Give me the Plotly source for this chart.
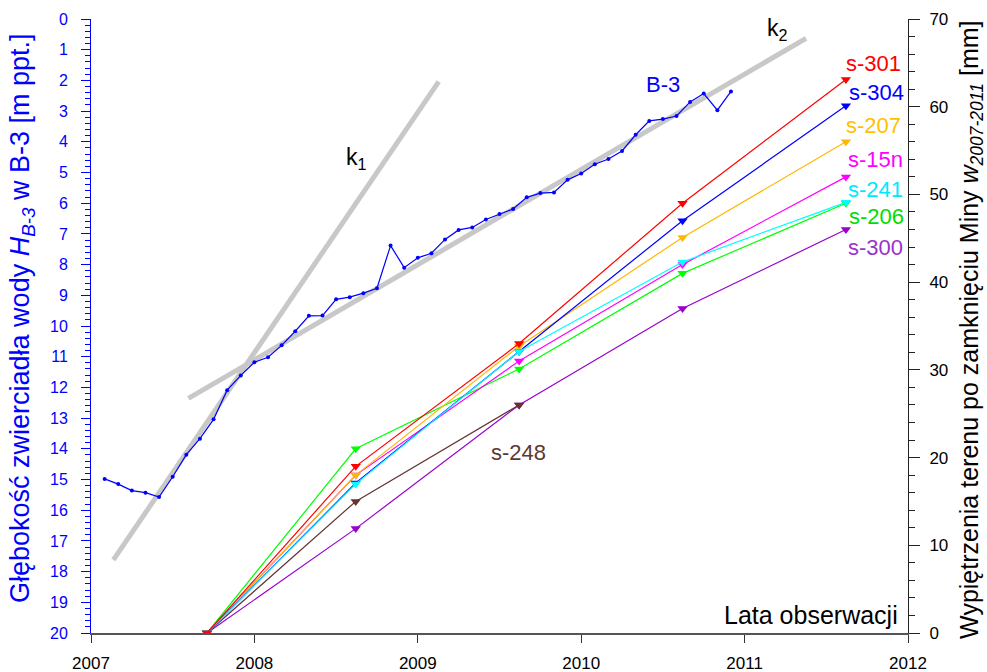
import plotly.graph_objects as go

# ---------------- data ----------------
b3_months = [
    "2007-02", "2007-03", "2007-04", "2007-05", "2007-06", "2007-07", "2007-08", "2007-09",
    "2007-10", "2007-11", "2007-12",
    "2008-01", "2008-02", "2008-03", "2008-04", "2008-05", "2008-06", "2008-07", "2008-08",
    "2008-09", "2008-10", "2008-11", "2008-12",
    "2009-01", "2009-02", "2009-03", "2009-04", "2009-05", "2009-06", "2009-07", "2009-08",
    "2009-09", "2009-10", "2009-11", "2009-12",
    "2010-01", "2010-02", "2010-03", "2010-04", "2010-05", "2010-06", "2010-07", "2010-08",
    "2010-09", "2010-10", "2010-11", "2010-12",
]
b3_depth = [
    14.98, 15.15, 15.36, 15.43, 15.57, 14.91, 14.19, 13.67, 13.04, 12.09, 11.61,
    11.18, 11.02, 10.63, 10.17, 9.67, 9.66, 9.13, 9.06, 8.93, 8.77, 7.38, 8.10,
    7.78, 7.63, 7.18, 6.87, 6.79, 6.53, 6.35, 6.19, 5.81, 5.67, 5.65, 5.24,
    5.03, 4.73, 4.56, 4.30, 3.77, 3.32, 3.26, 3.16, 2.70, 2.43, 2.97, 2.36,
]

# trend lines (start / end points: year, depth)
k1_years = [2007.137, 2009.128]
k1_depth = [17.62, 2.04]
k2_years = [2007.596, 2011.376]
k2_depth = [12.36, 0.63]

# surveys of ground uplift [mm]
survey_years = [2007.71, 2008.62, 2009.62, 2010.62, 2011.62]
s301 = [0, 19.0, 33.0, 49.0, 63.1]
s304 = [0, 17.1, 32.1, 47.0, 60.1]
s207 = [0, 18.0, 32.7, 45.1, 56.0]
s15n = [0, 18.0, 31.0, 42.0, 52.0]
s241 = [0, 17.0, 32.1, 42.3, 49.1]
s206 = [0, 21.0, 30.1, 41.0, 49.0]
s300 = [0, 11.9, 26.0, 37.0, 46.0]
s248 = [0, 15.0, 26.0]

x_ticks = [2007, 2008, 2009, 2010, 2011, 2012]


def dec_year(s):
    y, m = s.split("-")
    return int(y) + (int(m) - 1) / 12.0


b3_years = [dec_year(s) for s in b3_months]

FONT = "Liberation Sans, Arial, sans-serif"
GRAY = "#C8C8C8"

fig = go.Figure()

# trend lines
fig.add_trace(go.Scatter(x=k1_years, y=k1_depth, mode="lines",
                         line=dict(color=GRAY, width=5), yaxis="y", hoverinfo="skip"))
fig.add_trace(go.Scatter(x=k2_years, y=k2_depth, mode="lines",
                         line=dict(color=GRAY, width=5), yaxis="y", hoverinfo="skip"))

# B-3 water level
fig.add_trace(go.Scatter(x=b3_years, y=b3_depth, mode="lines+markers",
                         line=dict(color="#0000FF", width=1.2),
                         marker=dict(color="#0000FF", size=4), yaxis="y"))

series = [
    ("s-300", s300, "#9900CC"),
    ("s-248", s248, "#663333"),
    ("s-206", s206, "#00FF00"),
    ("s-15n", s15n, "#FF00FF"),
    ("s-207", s207, "#FFB800"),
    ("s-304", s304, "#0000FF"),
    ("s-241", s241, "#00FFFF"),
    ("s-301", s301, "#FF0000"),
]
for name, vals, col in series:
    fig.add_trace(go.Scatter(x=survey_years[:len(vals)], y=vals, mode="lines+markers",
                             name=name, yaxis="y2",
                             line=dict(color=col, width=1.2),
                             marker=dict(color=col, size=9, symbol="triangle-down")))

labels = [
    ("s-301", 2011.786, 64.9, "#FF0000"),
    ("s-304", 2011.808, 61.65, "#0000FF"),
    ("s-207", 2011.79, 57.9, "#FFC000"),
    ("s-15n", 2011.80, 54.0, "#FF00FF"),
    ("s-241", 2011.80, 50.6, "#00E8FF"),
    ("s-206", 2011.81, 47.5, "#00DD00"),
    ("s-300", 2011.80, 44.0, "#9933CC"),
    ("s-248", 2009.617, 20.6, "#5C3A33"),
]
annotations = []
for txt, xx, yy, col in labels:
    annotations.append(dict(x=xx, y=yy, xref="x", yref="y2", text=txt, showarrow=False,
                            font=dict(family=FONT, size=22, color=col),
                            xanchor="center", yanchor="middle"))

annotations += [
    dict(x=2010.499, y=2.12, xref="x", yref="y", text="B-3", showarrow=False,
         font=dict(family=FONT, size=22, color="#0000FF"), xanchor="center", yanchor="middle"),
    dict(x=2008.548, y=4.55, xref="x", yref="y", text="k<sub>1</sub>", showarrow=False,
         font=dict(family=FONT, size=23, color="#000000"), xanchor="left", yanchor="middle"),
    dict(x=2011.125, y=0.35, xref="x", yref="y", text="k<sub>2</sub>", showarrow=False,
         font=dict(family=FONT, size=23, color="#000000"), xanchor="left", yanchor="middle"),
    dict(x=2011.951, y=2.05, xref="x", yref="y2", text="Lata obserwacji", showarrow=False,
         font=dict(family=FONT, size=25, color="#000000"), xanchor="right", yanchor="middle"),
    # axis titles
    dict(x=0, y=0.5, xref="paper", yref="paper", xshift=-69, yshift=8,
         text="Głębokość zwierciadła wody <i>H<sub>B-3</sub></i> w B-3 [m ppt.]",
         textangle=-90, showarrow=False, xanchor="center", yanchor="middle",
         font=dict(family=FONT, size=27, color="#0000FF")),
    dict(x=1, y=0.5, xref="paper", yref="paper", xshift=63, yshift=-4,
         text="Wypiętrzenia terenu po zamknięciu Miny <i>w<sub>2007-2011</sub></i> [mm]",
         textangle=-90, showarrow=False, xanchor="center", yanchor="middle",
         font=dict(family=FONT, size=25, color="#000000")),
]

fig.update_layout(
    width=987, height=672, autosize=False,
    margin=dict(l=91, r=79, t=19, b=39, pad=0, autoexpand=False),
    paper_bgcolor="white", plot_bgcolor="white",
    showlegend=False,
    font=dict(family=FONT, size=16, color="#000000"),
    annotations=annotations,
    xaxis=dict(range=[2007, 2012], tickvals=x_ticks, ticktext=[str(v) for v in x_ticks],
               showgrid=False, zeroline=False, showline=True, linecolor="#555555", linewidth=1.5,
               ticks="outside", ticklen=8, tickcolor="#333333", tickwidth=1,
               tickfont=dict(family=FONT, size=17, color="#000000"),
               ticklabelstandoff=6, automargin=False),
    yaxis=dict(range=[20, 0], dtick=1, tick0=0, showgrid=False, zeroline=False,
               showline=True, linecolor="#0000FF", linewidth=1,
               ticks="outside", ticklen=9, tickcolor="#0000FF", tickwidth=1,
               tickfont=dict(family=FONT, size=16, color="#0000FF"),
               ticklabelstandoff=10, automargin=False,
               minor=dict(dtick=0.2, tick0=0, ticks="outside", ticklen=5,
                          tickcolor="#0000FF", tickwidth=1, showgrid=False)),
    yaxis2=dict(range=[0, 70], dtick=10, tick0=0, overlaying="y", side="right",
                showgrid=False, zeroline=False, showline=True, linecolor="#222222", linewidth=1,
                ticks="outside", ticklen=11, tickcolor="#222222", tickwidth=1,
                tickfont=dict(family=FONT, size=17, color="#000000"),
                ticklabelstandoff=6, automargin=False,
                minor=dict(dtick=2, tick0=0, ticks="outside", ticklen=6,
                           tickcolor="#222222", tickwidth=1, showgrid=False)),
)

fig.write_html("out.html", config={"displayModeBar": False},
               post_script="document.body.style.margin='0';")
